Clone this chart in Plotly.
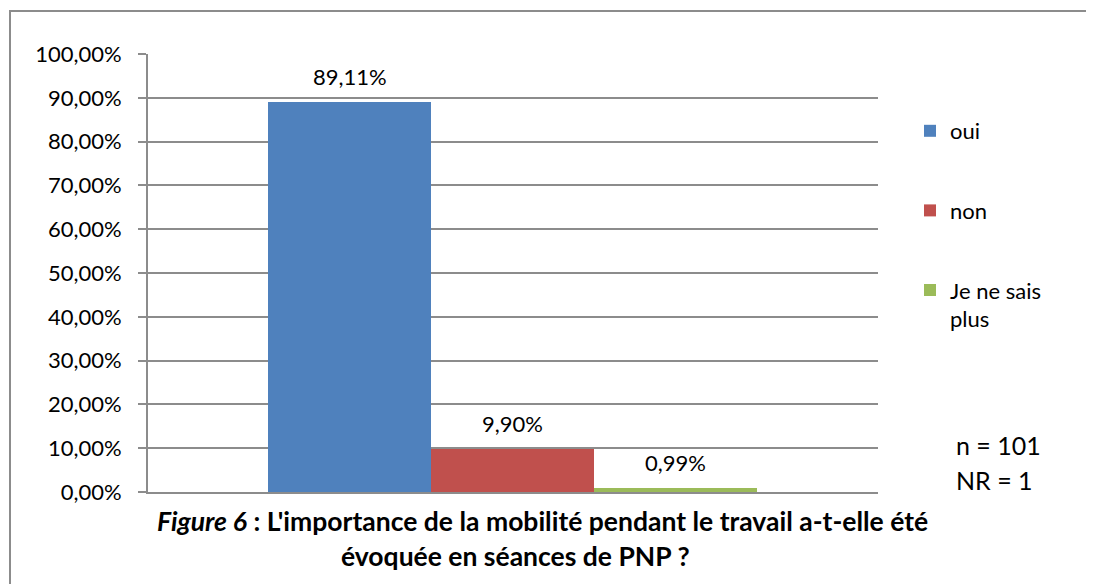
"""Bar chart: importance de la mobilité pendant le travail (Figure 6)."""

import plotly.graph_objects as go

# Data
reponses = ["oui", "non", "Je ne sais plus"]
legende = ["oui", "non", "Je ne sais<br>plus"]
pourcentages = [0.8911, 0.0990, 0.0099]
couleurs = ["#4F81BD", "#C0504D", "#9BBB59"]
y_ticks = [i / 10 for i in range(11)]
n_total = 101
n_nr = 1

titre_l1 = "<b><i>Figure 6</i> : L'importance de la mobilité pendant le travail a-t-elle été</b>"
titre_l2 = "<b>évoquée en séances de PNP ?</b>"

FONT = "Lato, 'Open Sans', sans-serif"
GRIS = "#8c8c8c"

# the page body has an 8px margin, so the figure starts at (8, 8)
OFF = 8
W, H = 1094 - OFF, 584 - OFF
PL, PR, PT, PB = 148, 878, 54, 492  # plot area in page pixels
L, R, T, B = PL - OFF, 1094 - PR, PT - OFF, 584 - PB
pw = PR - PL
ph = PB - PT


def px_x(px):
    return (px - PL) / pw


def px_y(py):
    return (PB - py) / ph


def fr_pct(v):
    return f"{v * 100:.2f}".replace(".", ",") + "%"


fig = go.Figure()

for i, (rep, leg, val, col) in enumerate(zip(reponses, legende, pourcentages, couleurs)):
    fig.add_trace(
        go.Bar(
            x=[rep],
            y=[val],
            name=leg,
            marker=dict(color=col, line=dict(width=0)),
            legendgroup=f"g{i}",
            hoverinfo="skip",
        )
    )
    fig.add_annotation(
        x=rep,
        y=val,
        text=fr_pct(val),
        showarrow=False,
        yanchor="middle",
        yshift=25,
        font=dict(size=22, color="#000000", family=FONT),
    )

# title at the bottom (two lines, as in the source)
for txt, cx, cy in [(titre_l1, 542, 521), (titre_l2, 515, 556)]:
    fig.add_annotation(
        x=px_x(cx),
        y=px_y(cy),
        xref="paper",
        yref="paper",
        text=txt,
        showarrow=False,
        xanchor="center",
        yanchor="middle",
        font=dict(size=26.5, color="#000000", family=FONT),
    )

# n / NR
fig.add_annotation(
    x=px_x(954), y=px_y(445), xref="paper", yref="paper",
    text=f"n = {n_total}", showarrow=False, xanchor="left", yanchor="middle",
    font=dict(size=25, color="#000000", family=FONT),
)
fig.add_annotation(
    x=px_x(954), y=px_y(480), xref="paper", yref="paper",
    text=f"NR = {n_nr}", showarrow=False, xanchor="left", yanchor="middle",
    font=dict(size=25, color="#000000", family=FONT),
)

# chart border
fig.add_shape(
    type="rect",
    xref="paper", yref="paper",
    x0=px_x(10), x1=px_x(1110),
    y0=px_y(600), y1=px_y(11),
    line=dict(color=GRIS, width=2),
    fillcolor="rgba(0,0,0,0)",
    layer="below",
)

# each bar fills one category; 163 px per category
unit = 163.0
half = pw / 2 / unit
centre = 1 - ((PL + PR) / 2 - 513.5) / unit

fig.update_layout(
    width=W,
    height=H,
    margin=dict(l=L, r=R, t=T, b=B),
    paper_bgcolor="white",
    plot_bgcolor="white",
    separators=", ",
    barmode="overlay",
    bargap=0,
    font=dict(family=FONT, size=22, color="#000000"),
    showlegend=True,
    legend=dict(
        x=px_x(910),
        y=px_y(110),
        xanchor="left",
        yanchor="top",
        tracegroupgap=48,
        valign="top",
        font=dict(size=22, family=FONT, color="#000000"),
        bgcolor="rgba(0,0,0,0)",
    ),
    xaxis=dict(
        type="category",
        range=[centre - half, centre + half],
        showticklabels=False,
        showgrid=False,
        showline=True,
        linecolor=GRIS,
        linewidth=2,
        ticks="",
        zeroline=False,
    ),
    yaxis=dict(
        range=[0, 1],
        tickvals=y_ticks,
        tickformat=".2%",
        showgrid=True,
        gridcolor=GRIS,
        gridwidth=1.5,
        showline=True,
        linecolor=GRIS,
        linewidth=2,
        ticks="outside",
        ticklen=8,
        tickcolor=GRIS,
        tickwidth=1.5,
        ticklabelstandoff=12,
        zeroline=False,
        tickfont=dict(size=22, family=FONT, color="#000000"),
    ),
)

fig.write_html("out.html")
